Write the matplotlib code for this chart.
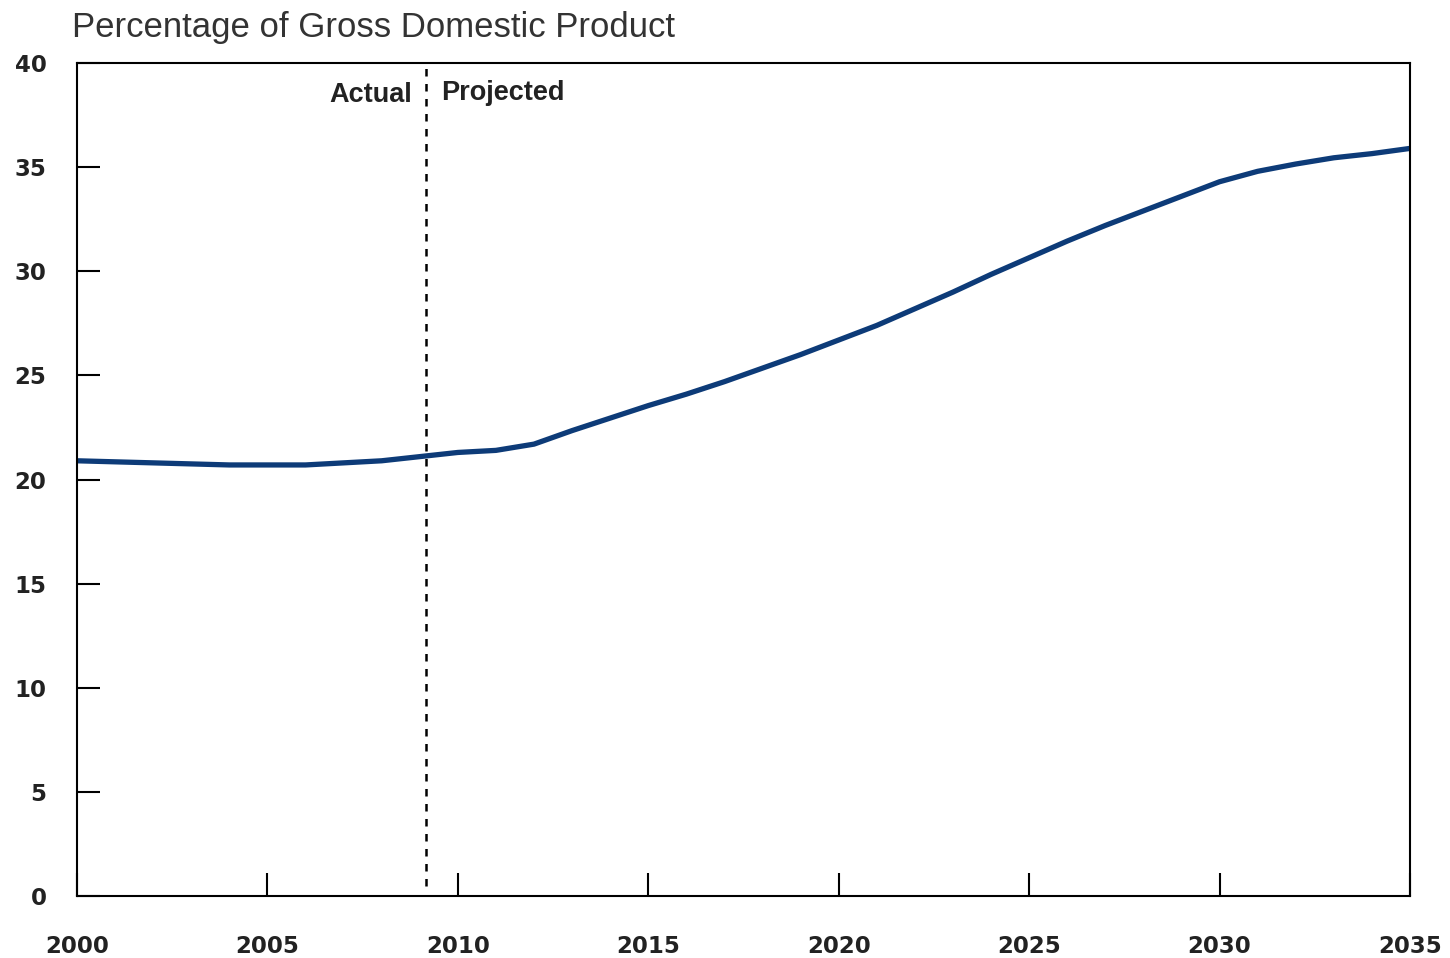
""" Recreate the GDP percentage projection chart """
import numpy as np
import matplotlib
matplotlib.use("Agg")
import matplotlib.pyplot as plt

# Data
years = list(range(2000, 2036))
values = [20.9, 20.85, 20.8, 20.75, 20.7, 20.7, 20.7, 20.8, 20.9, 21.1,
          21.3, 21.4, 21.7, 22.35, 22.95, 23.55, 24.1, 24.7, 25.35, 26.0,
          26.7, 27.4, 28.2, 29.0, 29.85, 30.65, 31.45, 32.2, 32.9, 33.6,
          34.3, 34.8, 35.15, 35.45, 35.65, 35.9]
split_year = 2009.16
x_ticks = [2000, 2005, 2010, 2015, 2020, 2025, 2030, 2035]
y_ticks = [0, 5, 10, 15, 20, 25, 30, 35, 40]
title = "Percentage of Gross Domestic Product"

narrow = ['Liberation Sans Narrow', 'Liberation Sans', 'DejaVu Sans']

fig = plt.figure(figsize=(14.5, 9.58), dpi=100)
ax = fig.add_axes([0.0531, 0.0647, 0.9193, 0.8695])

ax.plot(years, values, color='#0d3b78', linewidth=3.8,
        solid_joinstyle='round', solid_capstyle='butt')
ax.plot([split_year, split_year], [0.5, 40], color='black', linewidth=1.8,
        linestyle=(0, (3, 3)))

ax.set_xlim(2000, 2035)
ax.set_ylim(0, 40)
ax.set_xticks(x_ticks)
ax.set_yticks(y_ticks)
ax.tick_params(axis='both', direction='in', length=16.5, width=1.5, color='black')
ax.tick_params(axis='x', pad=28)
ax.tick_params(axis='y', pad=22)
for lab in ax.get_xticklabels() + ax.get_yticklabels():
    lab.set_fontweight('bold')
    lab.set_fontsize(16.5)
    lab.set_color('#222222')
for sp in ax.spines.values():
    sp.set_linewidth(1.5)

# Actual / Projected labels
ax.text(split_year - 0.35, 38.45, "Actual", ha='right', va='center',
        fontsize=19.5, fontweight='bold', family=narrow, color='#222222')
ax.text(split_year + 0.4, 38.55, "Projected", ha='left', va='center',
        fontsize=19.5, fontweight='bold', family=narrow, color='#222222')

fig.text(0.0497, 0.971, title, ha='left', va='center', fontsize=25,
         family=narrow, color='#333333')

fig.savefig('out.png', dpi=100)
